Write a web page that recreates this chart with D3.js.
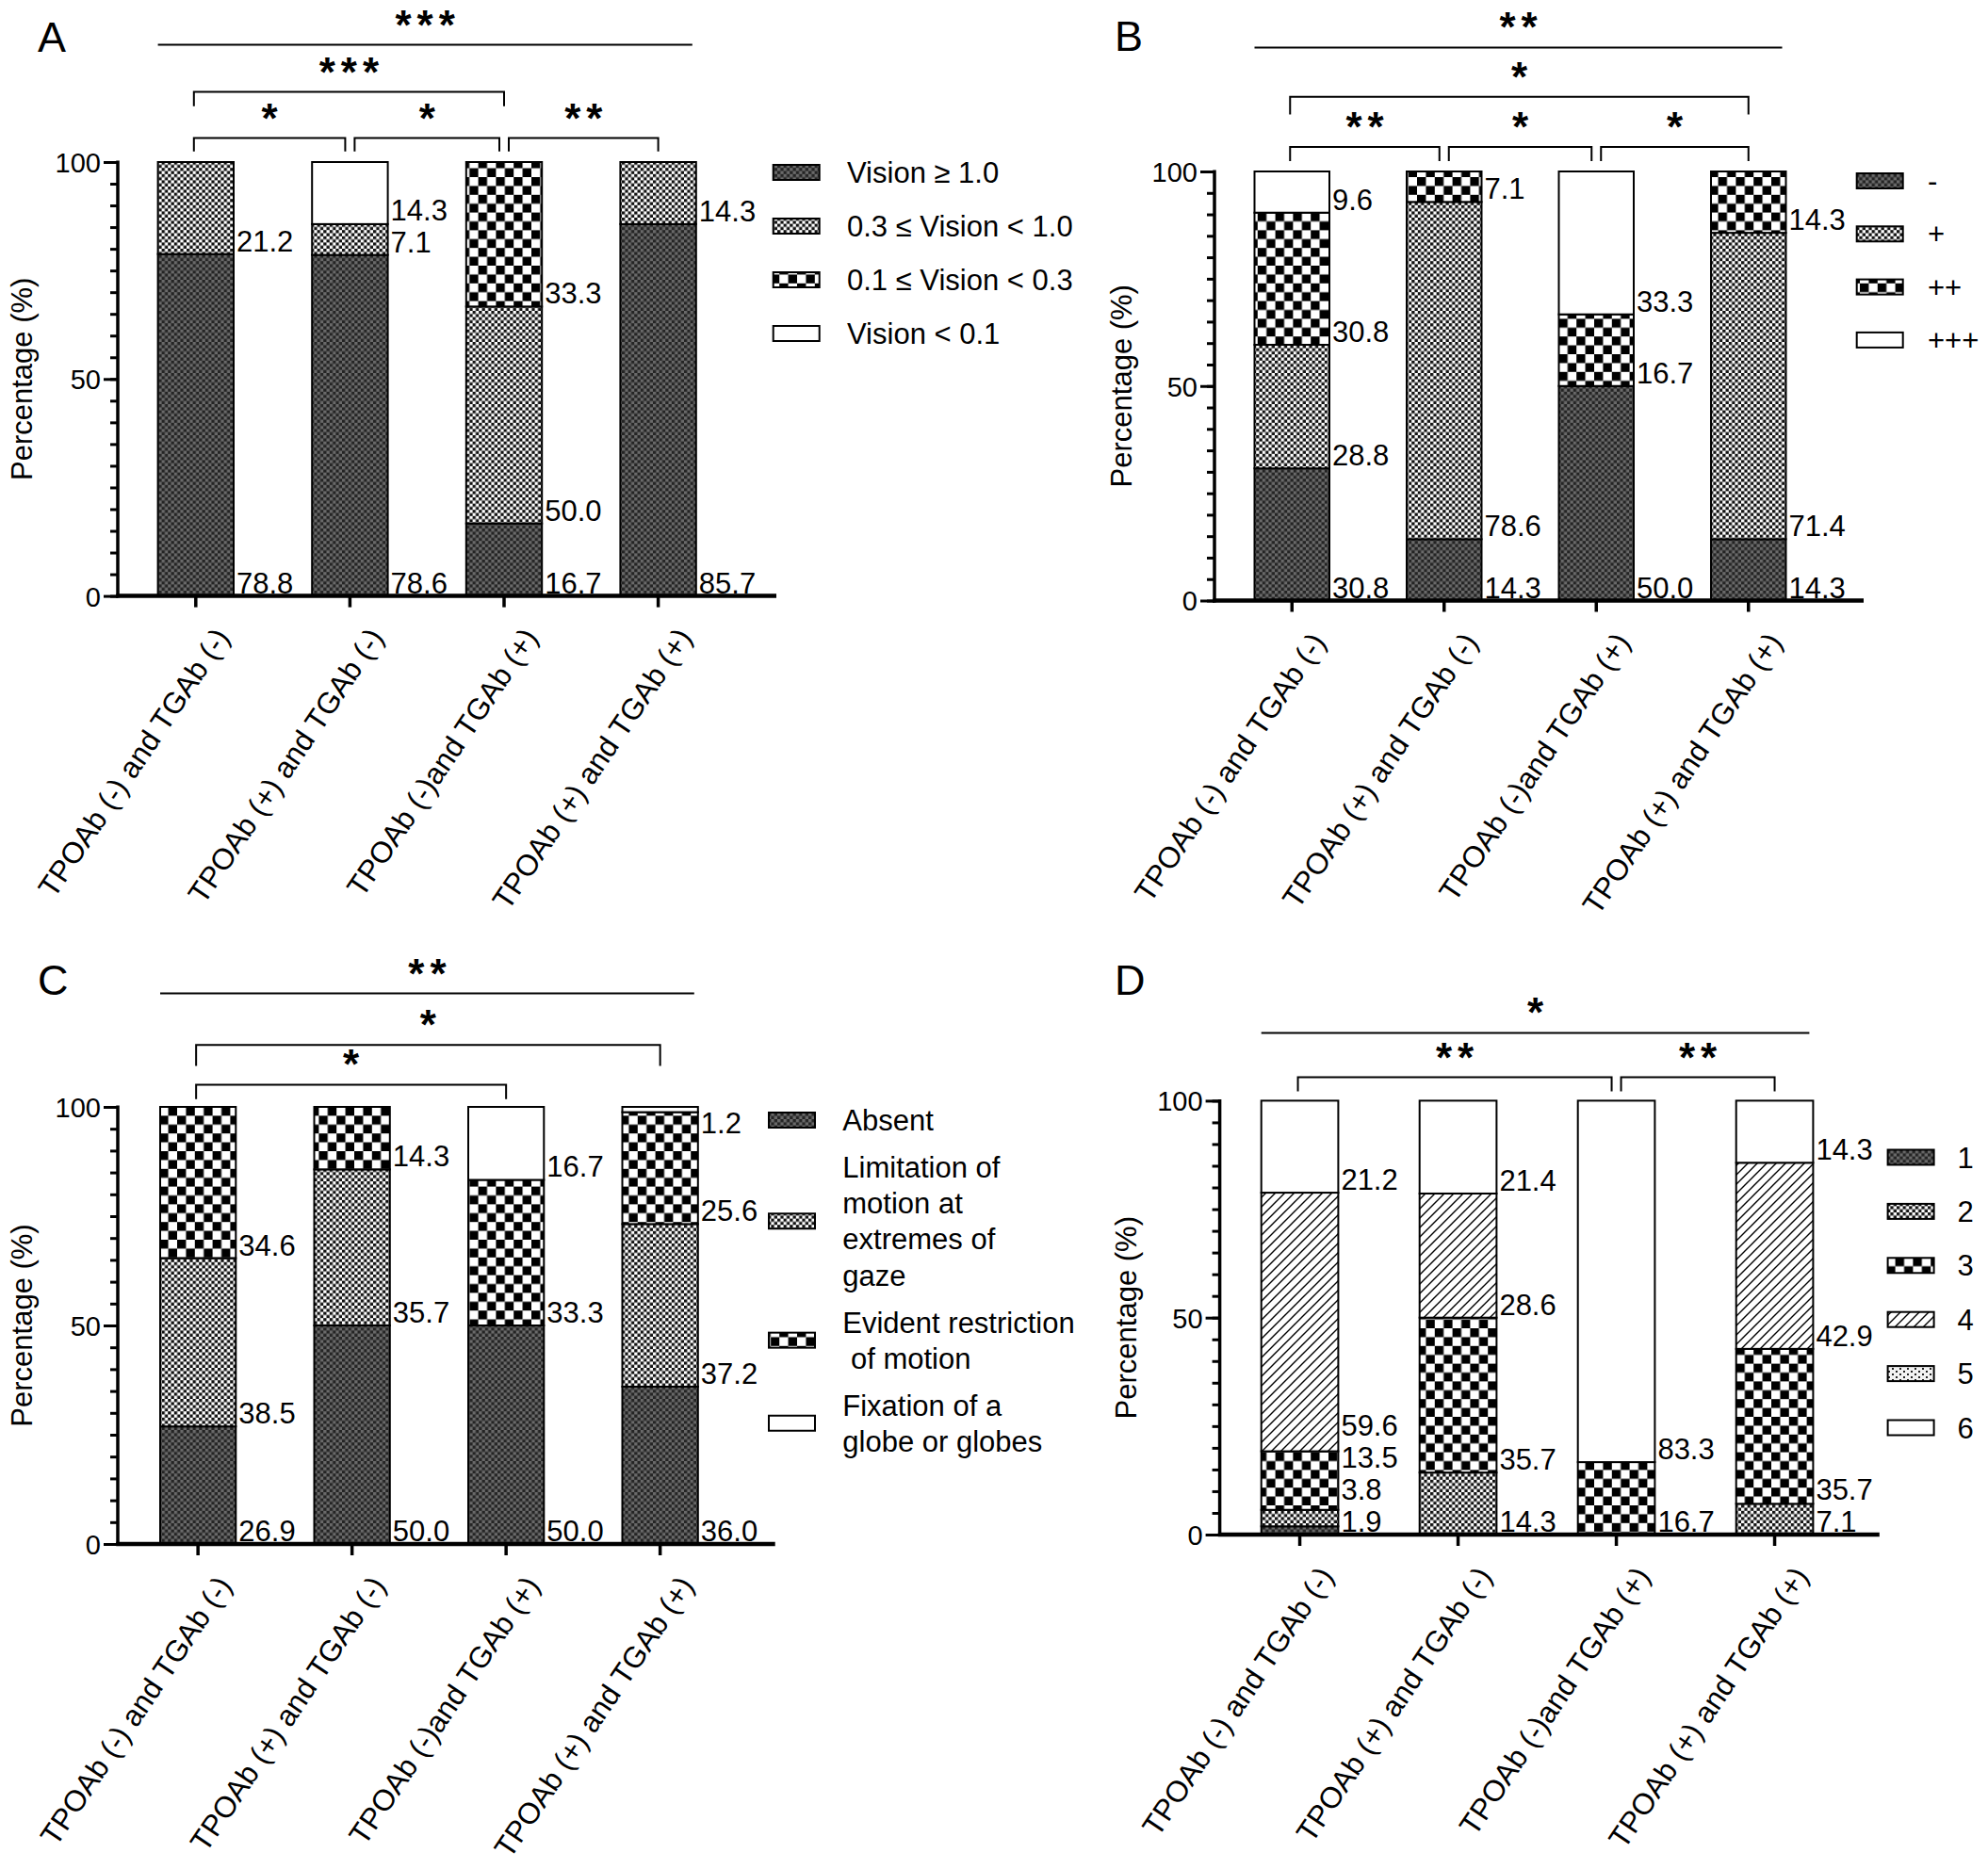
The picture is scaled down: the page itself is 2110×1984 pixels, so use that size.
<!DOCTYPE html>
<html><head><meta charset="utf-8">
<script src="https://cdn.jsdelivr.net/npm/d3@7"></script>
<style>
body{margin:0;background:#fff;}
svg text{font-family:"Liberation Sans",Arial,Helvetica,sans-serif;fill:#000;}
</style></head><body>
<svg id="chart" width="2110" height="1984"></svg>
<script>
// ---------------- DATA ----------------
const categories = ["TPOAb (-) and TGAb (-)", "TPOAb (+) and TGAb (-)", "TPOAb (-)and TGAb (+)", "TPOAb (+) and TGAb (+)"];
const yTicks = [0, 50, 100];

// Panel A : visual acuity
const seriesA = ["Vision \u2265 1.0", "0.3 \u2264 Vision < 1.0", "0.1 \u2264 Vision < 0.3", "Vision < 0.1"];
const valuesA = [
  [78.8, 21.2, 0, 0],
  [78.6, 7.1, 0, 14.3],
  [16.7, 50.0, 33.3, 0],
  [85.7, 14.3, 0, 0]
];
const sigA = [[0, 1, "*", 1], [1, 2, "*", 1], [2, 3, "**", 1], [0, 2, "***", 2], [0, 3, "***", 3]];

// Panel B
const seriesB = ["-", "+", "++", "+++"];
const valuesB = [
  [30.8, 28.8, 30.8, 9.6],
  [14.3, 78.6, 7.1, 0],
  [50.0, 0, 16.7, 33.3],
  [14.3, 71.4, 14.3, 0]
];
const sigB = [[0, 1, "**", 1], [1, 2, "*", 1], [2, 3, "*", 1], [0, 3, "*", 2], [0, 3, "**", 3]];

// Panel C : ocular motility
const seriesC = [["Absent"], ["Limitation of", "motion at", "extremes of", "gaze"], ["Evident restriction", " of motion"], ["Fixation of a", "globe or globes"]];
const valuesC = [
  [26.9, 38.5, 34.6, 0],
  [50.0, 35.7, 14.3, 0],
  [50.0, 0, 33.3, 16.7],
  [36.0, 37.2, 25.6, 1.2]
];
const sigC = [[0, 2, "*", 1], [0, 3, "*", 2], [0, 3, "**", 3]];

// Panel D
const seriesD = ["1", "2", "3", "4", "5", "6"];
const valuesD = [
  [1.9, 3.8, 13.5, 59.6, 0, 21.2],
  [0, 14.3, 35.7, 28.6, 0, 21.4],
  [0, 0, 16.7, 0, 0, 83.3],
  [0, 7.1, 35.7, 42.9, 0, 14.3]
];
const sigD = [[0, 2, "**", 1], [2, 3, "**", 1], [0, 3, "*", 3]];

// ---------------- LAYOUT (positions & styles) ----------------
const panels = [
  {letter: "A", series: seriesA.map(s => [s]), values: valuesA, sig: sigA, pats: ["dark", "fine", "big", "white"],
   L: {letterX: 40, letterY: 55, titleX: 34, axisX: 125, y100: 172, y0: 632.6, firstLeft: 167.6, step: 163.6, bw: 80.4, xEnd: 824,
       tiers: {1: {y: 146.5, drop: 14.3}, 2: {y: 97.6, drop: 15.2}, 3: {y: 47.6}},
       legX: 820.7, legTextX: 899, legFirst: 194, legGap: 18.7}},
  {letter: "B", series: seriesB.map(s => [s]), values: valuesB, sig: sigB, pats: ["dark", "fine", "big", "white"],
   L: {letterX: 1183, letterY: 54, titleX: 1200.5, axisX: 1289, y100: 182, y0: 637.5, firstLeft: 1331.5, step: 161.5, bw: 79.5, xEnd: 1978,
       tiers: {1: {y: 156, drop: 15}, 2: {y: 102.7, drop: 18.7}, 3: {y: 50.4}},
       legX: 1970.7, legTextX: 2046, legFirst: 203, legGap: 18}},
  {letter: "C", series: seriesC, values: valuesC, sig: sigC, pats: ["dark", "fine", "big", "white"],
   L: {letterX: 40, letterY: 1056, titleX: 34, axisX: 125, y100: 1175, y0: 1639, firstLeft: 170, step: 163.5, bw: 80.3, xEnd: 822.7,
       tiers: {1: {y: 1151.4, drop: 15.3}, 2: {y: 1109.3, drop: 22.2}, 3: {y: 1054.6}},
       legX: 816, legTextX: 894.3, legFirst: 1200, legGap: 11.5}},
  {letter: "D", series: seriesD.map(s => [s]), values: valuesD, sig: sigD, pats: ["dark", "fine", "big", "hatch", "dots", "white"],
   L: {letterX: 1183, letterY: 1056, titleX: 1206, axisX: 1294.6, y100: 1168.4, y0: 1629, firstLeft: 1338.7, step: 168, bw: 81.7, xEnd: 1994.8,
       tiers: {1: {y: 1143.5, drop: 15}, 3: {y: 1096.4}},
       legX: 2003.6, legTextX: 2077.5, legFirst: 1239.5, legGap: 19.1}}
];

const FONT = '"Liberation Sans", Arial, Helvetica, sans-serif';
const svg = d3.select("#chart");
svg.append("rect").attr("width", 2110).attr("height", 1984).attr("fill", "#fff");

// ---------------- PATTERNS ----------------
const defs = svg.append("defs");
function checker(id, cell, bg, fg) {
  const p = defs.append("pattern").attr("id", id).attr("patternUnits", "userSpaceOnUse")
    .attr("width", cell * 2).attr("height", cell * 2);
  p.append("rect").attr("width", cell * 2).attr("height", cell * 2).attr("fill", bg);
  p.append("rect").attr("width", cell).attr("height", cell).attr("fill", fg);
  p.append("rect").attr("x", cell).attr("y", cell).attr("width", cell).attr("height", cell).attr("fill", fg);
}
checker("pat-dark", 3.3, "#242424", "#6a6a6a");
checker("pat-fine", 3.3, "#ffffff", "#111111");
checker("pat-big", 9.4, "#ffffff", "#000000");
{
  const s = 10;
  const p = defs.append("pattern").attr("id", "pat-hatch").attr("patternUnits", "userSpaceOnUse")
    .attr("width", s).attr("height", s);
  p.append("rect").attr("width", s).attr("height", s).attr("fill", "#fff");
  p.append("path").attr("d", `M-3,3 L3,-3 M0,${s} L${s},0 M${s - 3},${s + 3} L${s + 3},${s - 3}`)
    .attr("stroke", "#000").attr("stroke-width", 1.4);
}
{
  const p = defs.append("pattern").attr("id", "pat-dots").attr("patternUnits", "userSpaceOnUse")
    .attr("width", 8).attr("height", 6);
  p.append("rect").attr("width", 8).attr("height", 6).attr("fill", "#f2f2f2");
  p.append("rect").attr("x", 0).attr("y", 0).attr("width", 2).attr("height", 2).attr("fill", "#222");
  p.append("rect").attr("x", 4).attr("y", 3).attr("width", 2).attr("height", 2).attr("fill", "#222");
}
const fillOf = k => k === "white" ? "#ffffff" : `url(#pat-${k})`;

// ---------------- DRAW PANELS ----------------
panels.forEach(P => {
  const L = P.L;
  const g = svg.append("g");
  const n = categories.length;
  const pi = 1 - L.bw / L.step, po = pi / 2;
  const r0 = L.firstLeft - po * L.step;
  const x = d3.scaleBand().domain(categories).range([r0, r0 + n * L.step]).paddingInner(pi).paddingOuter(po);
  const y = d3.scaleLinear().domain([0, 100]).range([L.y0, L.y100]);
  const bw = x.bandwidth();
  const cx = i => x(categories[i]) + bw / 2;

  // panel letter
  g.append("text").attr("x", L.letterX).attr("y", L.letterY).attr("font-size", 45).text(P.letter);

  // y axis title
  g.append("text").attr("transform", `translate(${L.titleX},${(L.y0 + L.y100) / 2}) rotate(-90)`)
    .attr("text-anchor", "middle").attr("font-size", 31).text("Percentage (%)");

  // stacked bars
  const keys = P.series.map((s, i) => i);
  const stacked = d3.stack().keys(keys)(P.values);
  stacked.forEach((layer, k) => {
    g.append("g").selectAll("rect").data(layer.map((d, i) => ({d, i})).filter(o => o.d[1] - o.d[0] > 0))
      .join("rect")
      .attr("x", o => x(categories[o.i]))
      .attr("y", o => y(o.d[1]))
      .attr("width", bw)
      .attr("height", o => y(o.d[0]) - y(o.d[1]))
      .attr("fill", fillOf(P.pats[k]))
      .attr("stroke", "#000").attr("stroke-width", 2);
  });

  // value labels (baseline at bottom of segment, stacked to avoid overlap)
  P.values.forEach((row, i) => {
    const items = [];
    row.forEach((v, k) => { if (v > 0) items.push({v, bottom: stacked[k][i][0]}); });
    let prev = Infinity;
    items.forEach(it => {
      let b = y(it.bottom) - 3;
      if (b > prev - 34) b = prev - 34;
      if (b < L.y100 + 28) b = L.y100 + 28;
      it.base = b; prev = b;
    });
    g.append("g").selectAll("text").data(items).join("text")
      .attr("x", x(categories[i]) + bw + 3)
      .attr("y", it => it.base)
      .attr("font-size", 31)
      .text(it => it.v.toFixed(1));
  });

  // y axis
  const yMinor = g.append("g").attr("transform", `translate(${L.axisX},0)`)
    .call(d3.axisLeft(y).tickValues(d3.range(0, 101, 5)).tickSize(8).tickSizeOuter(0).tickFormat(""));
  yMinor.select(".domain").remove();
  yMinor.selectAll(".tick line").attr("stroke", "#000").attr("stroke-width", 3);
  const yAx = g.append("g").attr("transform", `translate(${L.axisX},0)`)
    .call(d3.axisLeft(y).tickValues(yTicks).tickSize(15).tickSizeOuter(0).tickPadding(3).tickFormat(d3.format("d")));
  yAx.attr("font-family", FONT).attr("font-size", 29);
  yAx.select(".domain").attr("stroke", "#000").attr("stroke-width", 3.5)
    .attr("d", `M0,${L.y0 + 2}V${L.y100 - 1.5}`);
  yAx.selectAll(".tick line").attr("stroke", "#000").attr("stroke-width", 3);
  yAx.selectAll(".tick text").attr("fill", "#000").attr("dy", "0.36em");

  // x axis
  const xAx = g.append("g").attr("transform", `translate(0,${L.y0})`)
    .call(d3.axisBottom(x).tickSize(12).tickSizeOuter(0).tickFormat(""));
  xAx.select(".domain").attr("stroke", "#000").attr("stroke-width", 4.5)
    .attr("d", `M${L.axisX - 1.75},0H${L.xEnd}`);
  xAx.selectAll(".tick line").attr("stroke", "#000").attr("stroke-width", 3.5);

  // rotated category labels
  g.append("g").selectAll("text").data(categories).join("text")
    .attr("transform", (c, i) => `translate(${cx(i) + 37},${L.y0 + 44}) rotate(-56)`)
    .attr("text-anchor", "end").attr("font-size", 31.5).text(c => c);

  // significance brackets
  const sg = g.append("g");
  P.sig.forEach(([a, b, stars, tier]) => {
    const T = L.tiers[tier];
    let x1, x2;
    if (T.drop === undefined) {
      x1 = x(categories[a]); x2 = x(categories[b]) + bw - 4;
      sg.append("path").attr("d", `M${x1},${T.y}H${x2}`).attr("stroke", "#000").attr("stroke-width", 2).attr("fill", "none");
    } else {
      const sharedStart = P.sig.some(s => s[3] === tier && s[1] === a);
      const sharedEnd = P.sig.some(s => s[3] === tier && s[0] === b);
      x1 = cx(a) + (sharedStart ? 5 : -2);
      x2 = cx(b) - (sharedEnd ? 5 : 0);
      sg.append("path").attr("d", `M${x1},${T.y + T.drop}V${T.y}H${x2}V${T.y + T.drop}`)
        .attr("stroke", "#000").attr("stroke-width", 2).attr("fill", "none");
    }
    sg.append("text").attr("x", (x1 + x2) / 2 + 3).attr("y", T.y - 6)
      .attr("text-anchor", "middle").attr("font-size", 44).attr("font-weight", "bold")
      .attr("letter-spacing", 6).text(stars);
  });

  // legend
  const lg = g.append("g");
  let base = L.legFirst;
  P.series.forEach((lines, k) => {
    const first = base, last = base + (lines.length - 1) * 38.3;
    const mid = (first + last) / 2 - 11;
    lg.append("rect").attr("x", L.legX).attr("y", mid - 8).attr("width", 49).attr("height", 16)
      .attr("fill", fillOf(P.pats[k])).attr("stroke", "#000").attr("stroke-width", 2);
    lines.forEach((t, j) => {
      lg.append("text").attr("x", L.legTextX).attr("y", first + j * 38.3)
        .attr("font-size", 31).style("white-space", "pre").text(t);
    });
    base = last + 38.3 + L.legGap;
  });
});
</script>
</body></html>
